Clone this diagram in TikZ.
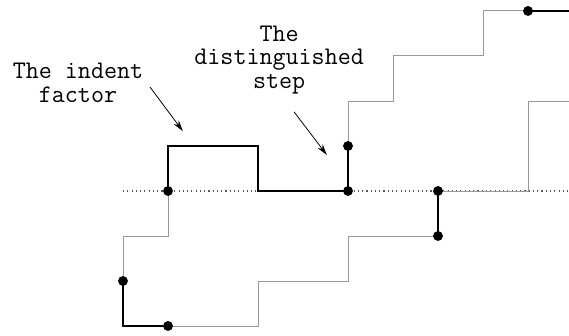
\documentclass[tikz,border=0pt]{standalone}
\usetikzlibrary{arrows.meta}
\begin{document}
\begin{tikzpicture}[x=1cm, y=1cm,
  lattice/.style={draw=gray!80, line width=0.6pt},
  marked/.style={draw=black, line width=1.3pt},
  dot/.style={circle, fill=black, inner sep=0pt, minimum size=0.22cm},
  label/.style={font=\ttfamily\fontsize{16}{14.8}\selectfont, align=center},
  pointer/.style={-{Stealth[length=7pt, width=4pt]}, line width=0.5pt}]
\useasboundingbox (-3.733,-3.222) rectangle (8.911,4.244);
% base line
\draw[dotted, line width=0.7pt, gray!70!black] (-1,0) -- (8.911,0);
% lower path
\draw[lattice] (0,-3) -- (2,-3) -- (2,-2) -- (4,-2) -- (4,-1) -- (6,-1);
\draw[lattice] (6,0) -- (8,0) -- (8,2) -- (8.911,2);
\draw[marked] (-1,-2) -- (-1,-3) -- (0,-3);
\draw[marked] (6,-1) -- (6,0);
% upper path
\draw[lattice] (0,0) -- (0,-1) -- (-1,-1) -- (-1,-2);
\draw[marked] (0,0) -- (0,1) -- (2,1) -- (2,0) -- (4,0) -- (4,1);
\draw[lattice] (4,1) -- (4,2) -- (5,2) -- (5,3) -- (7,3) -- (7,4) -- (8,4);
\draw[marked] (8,4) -- (8.911,4);
% marked points
\foreach \p/\n in {{-1,-2}/a, {0,-3}/b, {6,-1}/c, {6,0}/d, {0,0}/e, {4,0}/f, {4,1}/g, {8,4}/h}
  \node[dot] (dot-\n) at (\p) {};
% labels
\node[label] (indent) at (-2.0,2.4) {The indent\\factor};
\node[label] (step) at (2.47,2.91) {The\\distinguished\\step};
\coordinate (indent-from) at (-0.4,2.31);
\coordinate (indent-to) at (0.33,1.33);
\coordinate (step-from) at (2.8,1.76);
\coordinate (step-to) at (3.53,0.8);
\draw[pointer] (indent-from) -- (indent-to);
\draw[pointer] (step-from) -- (step-to);
\end{tikzpicture}
\end{document}
